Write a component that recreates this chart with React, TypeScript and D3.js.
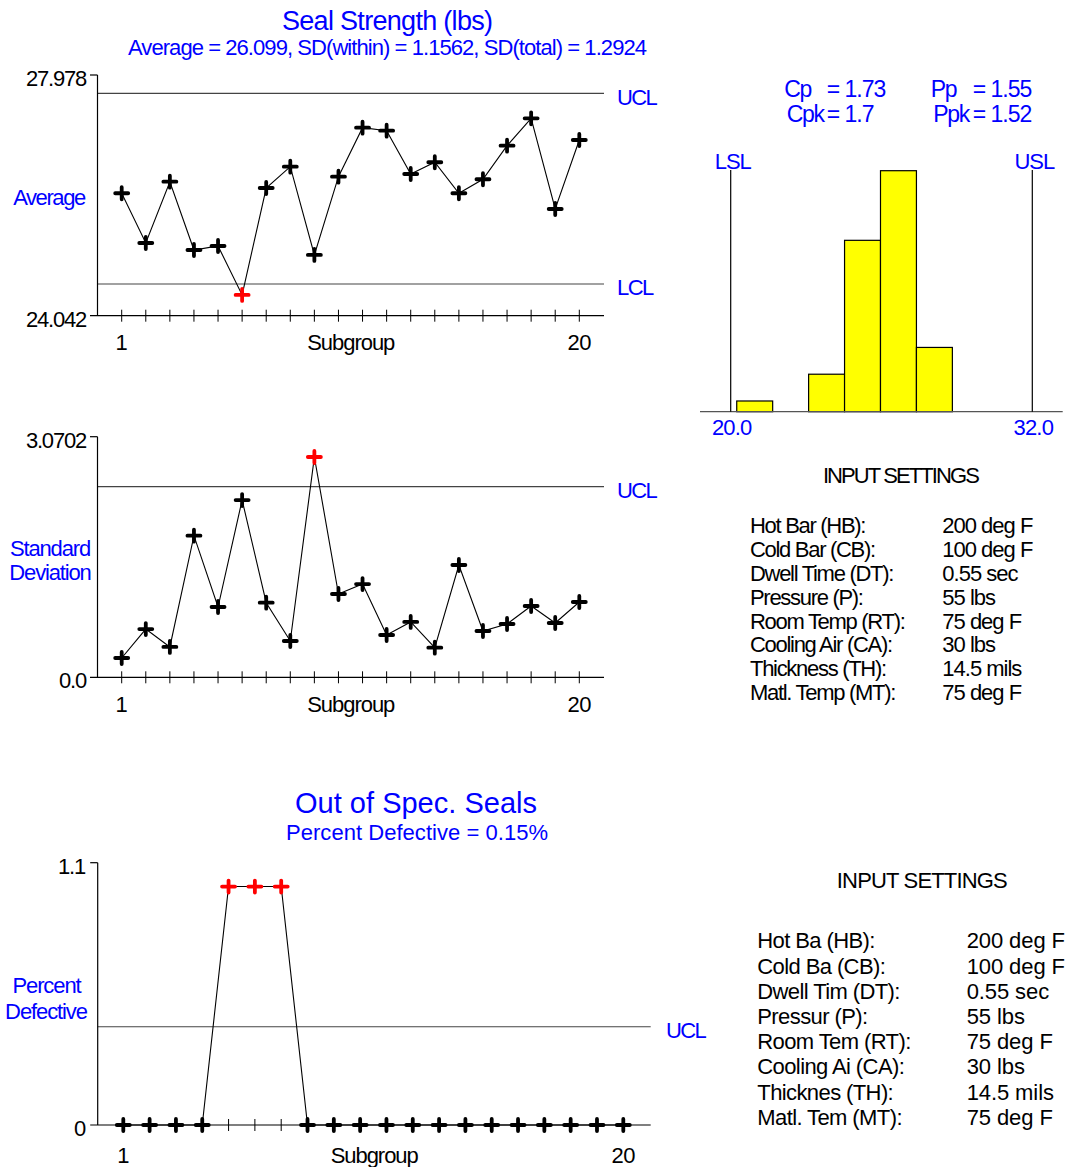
import React from "react";
import * as d3 from "d3";

// ---- Data ----
const subgroups = [1, 2, 3, 4, 5, 6, 7, 8, 9, 10, 11, 12, 13, 14, 15, 16, 17, 18, 19, 20];

const avgValues = [26.044, 25.231, 26.233, 25.116, 25.182, 24.381, 26.13, 26.479, 25.035, 26.315, 27.116, 27.067, 26.359, 26.551, 26.044, 26.273, 26.822, 27.27, 25.787, 26.915];
const avgUCL = 27.679;
const avgLCL = 24.56;
const avgAxis = [24.042, 27.978];
const avgTickLabels = ["24.042", "27.978"];

const sdValues = [0.246, 0.616, 0.387, 1.807, 0.897, 2.262, 0.952, 0.463, 2.811, 1.063, 1.19, 0.54, 0.706, 0.378, 1.433, 0.591, 0.68, 0.91, 0.693, 0.961];
const sdUCL = 2.432;
const sdAxis = [0, 3.0702];
const sdTickLabels = ["0.0", "3.0702"];

const pctValues = [0, 0, 0, 0, 1, 1, 1, 0, 0, 0, 0, 0, 0, 0, 0, 0, 0, 0, 0, 0];
const pctUCL = 0.412;
const pctAxis = [0, 1.1];
const pctTickLabels = ["0", "1.1"];

const histBinEdges = [20.24, 21.67, 23.1, 24.53, 25.96, 27.39, 28.82];
const histCounts = [2, 0, 7, 32, 45, 12];
const specLimits = [20, 32];
const specTickLabels = ["20.0", "32.0"];

const capLabels = ["Cp", "Cpk", "Pp", "Ppk"];
const capValues = ["1.73", "1.7", "1.55", "1.52"];

const settingLabels = ["Hot Bar (HB):", "Cold Bar (CB):", "Dwell Time (DT):", "Pressure (P):", "Room Temp (RT):", "Cooling Air (CA):", "Thickness (TH):", "Matl. Temp (MT):"];
const settingLabelsShort = ["Hot Ba (HB):", "Cold Ba (CB):", "Dwell Tim (DT):", "Pressur (P):", "Room Tem (RT):", "Cooling Ai (CA):", "Thicknes (TH):", "Matl. Tem (MT):"];
const settingValues = ["200 deg F", "100 deg F", "0.55 sec", "55 lbs", "75 deg F", "30 lbs", "14.5 mils", "75 deg F"];

// ---- Styling ----
const FONT = "'Liberation Sans', Arial, Helvetica, sans-serif";
const BLUE = "#0000ff";
const RED = "#ff0000";
const LIMIT = "#444";

type TProps = {
  x: number;
  y: number;
  size?: number;
  anchor?: "start" | "middle" | "end";
  fill?: string;
  ls?: number;
  len?: number;
  children: React.ReactNode;
};

function T({ x, y, size = 22, anchor = "start", fill = "#000", ls = -1.2, len, children }: TProps) {
  const extra: any = {};
  if (len) {
    extra.textLength = len;
    extra.lengthAdjust = "spacing";
  }
  return (
    <text
      x={x}
      y={y}
      fontSize={size}
      textAnchor={anchor}
      fill={fill}
      fontFamily={FONT}
      letterSpacing={len ? undefined : ls}
      {...extra}
    >
      {children}
    </text>
  );
}

function Plus({ x, y, color }: { x: number; y: number; color: string }) {
  return (
    <path
      d={`M${x - 6.5},${y}H${x + 6.5}M${x},${y - 6}V${y + 6}`}
      stroke={color}
      strokeWidth={3.8}
      strokeLinecap="round"
      fill="none"
    />
  );
}

type ControlChartProps = {
  values: number[];
  domain: number[];
  tickLabels: string[];
  ucl: number;
  lcl?: number;
  left: number;
  right: number;
  top: number;
  bottom: number;
  xFirst: number;
  xLast: number;
  subgroupBaseline: number;
  labelX: number;
};

function ControlChart(p: ControlChartProps) {
  const x = d3.scaleLinear().domain([subgroups[0], subgroups[subgroups.length - 1]]).range([p.xFirst, p.xLast]);
  const y = d3.scaleLinear().domain(p.domain).range([p.bottom, p.top]);
  const line = d3
    .line<number>()
    .x((_, i) => x(subgroups[i]))
    .y((d) => y(d));
  const out = (v: number) => v > p.ucl || (p.lcl !== undefined && v < p.lcl);
  const axisY = y(p.domain[0]);
  const mid = (p.left + p.right) / 2;
  return (
    <g>
      {/* control limits */}
      <line x1={p.left} x2={p.right} y1={y(p.ucl)} y2={y(p.ucl)} stroke={LIMIT} strokeWidth={1.2} />
      {p.lcl !== undefined && (
        <line x1={p.left} x2={p.right} y1={y(p.lcl)} y2={y(p.lcl)} stroke={LIMIT} strokeWidth={1.2} />
      )}
      {/* axes */}
      <line x1={p.left} x2={p.left} y1={y(p.domain[1])} y2={axisY} stroke="#000" strokeWidth={1.2} />
      <line x1={p.left - 7.5} x2={p.left} y1={y(p.domain[1])} y2={y(p.domain[1])} stroke="#000" strokeWidth={1.2} />
      <line x1={p.left - 7.5} x2={p.right} y1={axisY} y2={axisY} stroke="#000" strokeWidth={1.2} />
      {subgroups.map((s) => (
        <line key={s} x1={x(s)} x2={x(s)} y1={axisY - 6} y2={axisY + 6} stroke="#000" strokeWidth={1} />
      ))}
      {/* axis labels */}
      <T x={p.labelX} y={y(p.domain[1]) + 11} anchor="end">{p.tickLabels[1]}</T>
      <T x={p.labelX} y={axisY + 11} anchor="end">{p.tickLabels[0]}</T>
      <T x={x(subgroups[0])} y={p.subgroupBaseline} anchor="middle" ls={0}>{String(subgroups[0])}</T>
      <T x={x(subgroups[subgroups.length - 1])} y={p.subgroupBaseline} anchor="middle" ls={-0.5}>
        {String(subgroups[subgroups.length - 1])}
      </T>
      <T x={mid} y={p.subgroupBaseline} anchor="middle" ls={-1.05}>Subgroup</T>
      {/* data */}
      <path d={line(p.values) || ""} fill="none" stroke="#000" strokeWidth={1.1} />
      {p.values.map((v, i) => (
        <Plus key={i} x={x(subgroups[i])} y={y(v)} color={out(v) ? RED : "#000"} />
      ))}
    </g>
  );
}

function Histogram() {
  const x = d3.scaleLinear().domain(specLimits).range([730.7, 1032.3]);
  const y = d3.scaleLinear().domain([0, d3.max(histCounts) as number]).range([411.7, 170.7]);
  return (
    <g>
      {histCounts.map((c, i) =>
        c > 0 ? (
          <rect
            key={i}
            x={x(histBinEdges[i])}
            y={y(c)}
            width={x(histBinEdges[i + 1]) - x(histBinEdges[i])}
            height={y(0) - y(c)}
            fill="#ffff00"
            stroke="#000"
            strokeWidth={1.2}
          />
        ) : null
      )}
      <line x1={700} x2={1062.7} y1={y(0)} y2={y(0)} stroke="#555" strokeWidth={1.2} />
      {specLimits.map((s, i) => (
        <g key={i}>
          <line x1={x(s)} x2={x(s)} y1={170} y2={y(0)} stroke="#000" strokeWidth={1.2} />
          <T x={x(s) + 2} y={169.3} anchor="middle" fill={BLUE} ls={-1.1}>{i === 0 ? "LSL" : "USL"}</T>
          <T x={x(s) + 1} y={435} anchor="middle" fill={BLUE} ls={-0.8}>{specTickLabels[i]}</T>
        </g>
      ))}
    </g>
  );
}

function Settings({ title, titleX, titleY, titleLen, labels, labelX, valueX, rowY, rowStep, labelLs, valueLs }: any) {
  return (
    <g>
      <T x={titleX} y={titleY} anchor="middle" len={titleLen}>{title}</T>
      {labels.map((l: string, i: number) => (
        <g key={i}>
          <T x={labelX} y={rowY + i * rowStep} ls={labelLs}>{l}</T>
          <T x={valueX} y={rowY + i * rowStep} ls={valueLs}>{settingValues[i]}</T>
        </g>
      ))}
    </g>
  );
}

export default function App() {
  const capPos = [
    { x: 784.3, y: 97, ex: 826.7 },
    { x: 786.7, y: 121.7, ex: 826.7 },
    { x: 930.7, y: 97, ex: 972.7 },
    { x: 933.3, y: 121.7, ex: 972.7 },
  ];
  return (
    <svg
      width={1065}
      height={1167}
      viewBox="0 0 1065 1167"
      style={{ position: "absolute", left: 0, top: 0, background: "#fff" }}
    >
      <rect x={0} y={0} width={1065} height={1167} fill="#fff" />

      {/* Seal strength: averages */}
      <T x={387.5} y={30} size={27} anchor="middle" fill={BLUE} len={211}>Seal Strength (lbs)</T>
      <T x={387.5} y={55} size={22} anchor="middle" fill={BLUE} len={519}>
        Average = 26.099, SD(within) = 1.1562, SD(total) = 1.2924
      </T>
      <ControlChart
        values={avgValues}
        domain={avgAxis}
        tickLabels={avgTickLabels}
        ucl={avgUCL}
        lcl={avgLCL}
        left={97.5}
        right={604}
        top={75}
        bottom={315.7}
        xFirst={121.7}
        xLast={579.3}
        subgroupBaseline={350}
        labelX={86}
      />
      <T x={49} y={205} anchor="middle" fill={BLUE} ls={-1.4}>Average</T>
      <T x={617} y={105} fill={BLUE} ls={-1.6}>UCL</T>
      <T x={617} y={295} fill={BLUE} ls={-1.6}>LCL</T>

      {/* Seal strength: standard deviations */}
      <ControlChart
        values={sdValues}
        domain={sdAxis}
        tickLabels={sdTickLabels}
        ucl={sdUCL}
        left={97.5}
        right={604}
        top={436.7}
        bottom={677.3}
        xFirst={121.7}
        xLast={579.3}
        subgroupBaseline={711.5}
        labelX={86}
      />
      <T x={50} y={555.7} anchor="middle" fill={BLUE} ls={-1.15}>Standard</T>
      <T x={50} y={580} anchor="middle" fill={BLUE} ls={-1.15}>Deviation</T>
      <T x={617} y={498} fill={BLUE} ls={-1.6}>UCL</T>

      {/* Capability histogram */}
      {capLabels.map((c, i) => (
        <g key={c}>
          <T x={capPos[i].x} y={capPos[i].y} size={23} fill={BLUE} ls={-1.3}>{c}</T>
          <T x={capPos[i].ex} y={capPos[i].y} size={23} fill={BLUE} ls={-1}>{`= ${capValues[i]}`}</T>
        </g>
      ))}
      <Histogram />

      <Settings
        title="INPUT SETTINGS"
        titleX={901.4}
        titleY={483.3}
        titleLen={157}
        labels={settingLabels}
        labelX={750}
        valueX={942.3}
        rowY={533.3}
        rowStep={23.8}
        labelLs={-1.3}
        valueLs={-1}
      />

      {/* Out of spec seals */}
      <T x={416} y={813} size={29} anchor="middle" fill={BLUE} len={242}>Out of Spec. Seals</T>
      <T x={417} y={840} size={22} anchor="middle" fill={BLUE} len={262}>Percent Defective = 0.15%</T>
      <ControlChart
        values={pctValues}
        domain={pctAxis}
        tickLabels={pctTickLabels}
        ucl={pctUCL}
        left={97.7}
        right={650.7}
        top={862.7}
        bottom={1125}
        xFirst={123.3}
        xLast={623.3}
        subgroupBaseline={1163}
        labelX={85}
      />
      <T x={46.5} y={993.3} anchor="middle" fill={BLUE} ls={-1.1}>Percent</T>
      <T x={46} y={1019} anchor="middle" fill={BLUE} ls={-1.1}>Defective</T>
      <T x={666} y={1038} fill={BLUE} ls={-1.6}>UCL</T>

      <Settings
        title="INPUT SETTINGS"
        titleX={922.3}
        titleY={888.3}
        titleLen={171}
        labels={settingLabelsShort}
        labelX={757.3}
        valueX={966.7}
        rowY={948.3}
        rowStep={25.2}
        labelLs={-0.6}
        valueLs={-0.1}
      />
    </svg>
  );
}
